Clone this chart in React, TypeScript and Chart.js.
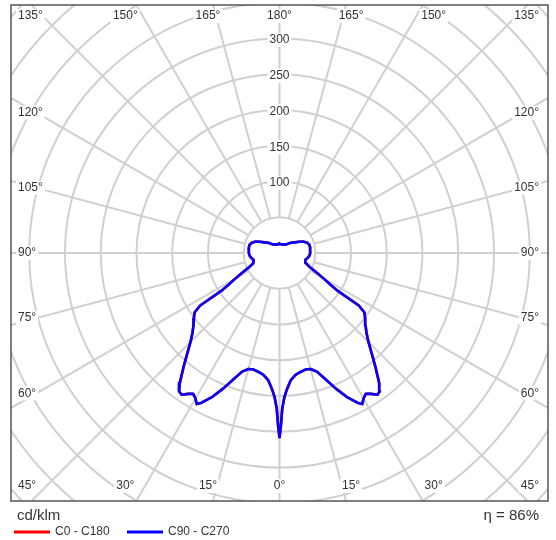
import React, { useEffect, useRef } from 'react';
import { Chart, registerables } from 'chart.js';

Chart.register(...registerables);

// Gamma angles (degrees, 0 = straight down, 180 = straight up)
const gammaAngles = [
  0, 0.5, 1, 2, 3, 4, 5, 7.5, 10, 12.5, 15, 17.5, 20, 22.5, 25, 27.5, 28.7, 30, 31.5, 33,
  34.6, 36, 37.5, 40, 42.5, 45, 47.5, 50, 52.5, 55, 56.5, 57, 58, 60, 62.5, 65, 69, 72, 76,
  80, 85, 90, 95, 100, 105, 110, 115, 120, 125, 130, 135, 141, 150, 160, 170, 177, 180,
];

// Luminous intensity, cd/klm
const c0c180 = [
  259, 240, 218, 201, 192, 185, 179, 172, 169, 167, 168, 174, 188, 205, 222, 236, 241, 235, 231, 235,
  241, 239, 229, 209, 191, 176, 165, 157, 151, 145, 133, 96, 85, 71, 57, 47, 39.5, 38, 37.5,
  40, 42, 43, 43, 43.5, 43.5, 41.5, 37.5, 31.5, 26, 23, 19.5, 15.5, 14, 12.5, 12.5, 12.5, 13.5,
];
const c90c270 = [
  259, 240, 218, 201, 192, 185, 179, 172, 169, 167, 168, 174, 188, 205, 222, 236, 241, 235, 231, 235,
  241, 239, 229, 209, 191, 176, 165, 157, 151, 145, 133, 96, 85, 71, 57, 47, 39.5, 38, 37.5,
  40, 42, 43, 43, 43.5, 43.5, 41.5, 37.5, 31.5, 26, 23, 19.5, 15.5, 14, 12.5, 12.5, 12.5, 13.5,
];

const seriesNames = ['C0 - C180', 'C90 - C270'];
const seriesColors = ['#ff0000', '#0000ff'];

const ringValues = [50, 100, 150, 200, 250, 300, 350, 400, 450, 500, 550];
const ringLabels = [100, 150, 200, 250, 300];
const angleTicks = [0, 15, 30, 45, 60, 75, 90, 105, 120, 135, 150, 165, 180];
const unitLabel = 'cd/klm';
const efficiencyLabel = '\u03B7 = 86%';

const X_RANGE = 375.5;
const Y_RANGE = 346.9;

function toPoints(values: number[]) {
  const pts: { x: number; y: number }[] = [];
  for (let i = 0; i < gammaAngles.length; i++) {
    const g = (gammaAngles[i] * Math.PI) / 180;
    pts.push({ x: values[i] * Math.sin(g), y: -values[i] * Math.cos(g) });
  }
  for (let i = gammaAngles.length - 2; i >= 0; i--) {
    const g = (gammaAngles[i] * Math.PI) / 180;
    pts.push({ x: -values[i] * Math.sin(g), y: -values[i] * Math.cos(g) });
  }
  return pts;
}

const FONT = '"Liberation Sans", Arial, sans-serif';
const TEXT = '#333333';

function labelWithBg(ctx: CanvasRenderingContext2D, text: string, x: number, y: number) {
  const w = ctx.measureText(text).width;
  ctx.fillStyle = '#ffffff';
  ctx.fillRect(x - w / 2 - 2, y - 7, w + 4, 14);
  ctx.fillStyle = TEXT;
  ctx.textAlign = 'center';
  ctx.textBaseline = 'middle';
  ctx.fillText(text, x, y);
}

const polarGrid = {
  id: 'polarGrid',
  beforeDatasetsDraw(chart: any) {
    const { ctx, chartArea } = chart;
    const xs = chart.scales.x;
    const ys = chart.scales.y;
    const cx = xs.getPixelForValue(0);
    const cy = ys.getPixelForValue(0);
    const ppu = xs.getPixelForValue(1) - cx;
    ctx.save();
    ctx.beginPath();
    ctx.rect(chartArea.left, chartArea.top, chartArea.right - chartArea.left, chartArea.bottom - chartArea.top);
    ctx.clip();
    ctx.strokeStyle = '#d0d0d0';
    ctx.lineWidth = 2;
    for (const r of ringValues) {
      ctx.beginPath();
      ctx.arc(cx, cy, r * ppu, 0, Math.PI * 2);
      ctx.stroke();
    }
    const rIn = ringValues[0] * ppu;
    const rOut = 900;
    for (let a = 0; a < 360; a += 15) {
      const t = (a * Math.PI) / 180;
      const dx = Math.sin(t);
      const dy = Math.cos(t);
      ctx.beginPath();
      ctx.moveTo(cx + dx * rIn, cy + dy * rIn);
      ctx.lineTo(cx + dx * rOut, cy + dy * rOut);
      ctx.stroke();
    }

    ctx.font = `12px ${FONT}`;
    // ring value labels on the upward spoke
    for (const r of ringLabels) {
      labelWithBg(ctx, String(r), cx, cy - r * ppu + 1.5);
    }

    // angle labels around the frame
    const left = chartArea.left + 7;
    const right = chartArea.right - 9;
    const topY = chartArea.top + 11;
    const botY = chartArea.bottom - 15;
    const H = (chartArea.right - chartArea.left) / 2 - 25.5;
    const V = (chartArea.bottom - chartArea.top) / 2 + 19;
    for (const a of angleTicks) {
      const sides = a === 0 || a === 180 ? [0] : [-1, 1];
      const text = `${a}\u00B0`;
      const w = ctx.measureText(text).width;
      const t = (a * Math.PI) / 180;
      for (const s of sides) {
        let x: number;
        let y: number;
        if (a > 50 && a < 130) {
          y = cy + (H * Math.cos(t)) / Math.sin(t);
          x = s < 0 ? left + w / 2 : right - w / 2;
        } else {
          y = a < 90 ? botY : topY;
          const d = V * Math.abs(Math.tan(t));
          x = cx + s * d;
          if (s < 0 && x - w / 2 < left) x = left + w / 2;
          if (s > 0 && x + w / 2 > right) x = right - w / 2;
        }
        labelWithBg(ctx, text, x, y);
      }
    }
    ctx.restore();
  },
  afterDraw(chart: any) {
    const { ctx, chartArea } = chart;
    ctx.save();
    ctx.strokeStyle = '#555555';
    ctx.lineWidth = 1.5;
    ctx.strokeRect(chartArea.left, chartArea.top, chartArea.right - chartArea.left, chartArea.bottom - chartArea.top);

    ctx.fillStyle = TEXT;
    ctx.textBaseline = 'middle';
    ctx.font = `15px ${FONT}`;
    ctx.textAlign = 'left';
    ctx.fillText(unitLabel, 17, 516);
    ctx.textAlign = 'right';
    ctx.fillText(efficiencyLabel, 539, 516);

    ctx.font = `12px ${FONT}`;
    ctx.textAlign = 'left';
    const items = chart.data.datasets
      .map((d: any) => ({ label: d.label, color: d.borderColor, ord: d.legendIndex }))
      .sort((a: any, b: any) => a.ord - b.ord);
    let x = 14;
    for (const it of items) {
      ctx.strokeStyle = it.color;
      ctx.lineWidth = 3;
      ctx.beginPath();
      ctx.moveTo(x, 532);
      ctx.lineTo(x + 36, 532);
      ctx.stroke();
      ctx.fillStyle = TEXT;
      ctx.fillText(it.label, x + 41, 532);
      x += 113;
    }
    ctx.restore();
  },
};

export default function App() {
  const ref = useRef<HTMLCanvasElement | null>(null);
  useEffect(() => {
    document.body.style.margin = '0';
    const canvas = ref.current;
    if (!canvas) return;
    const chart = new Chart(canvas, {
      type: 'scatter',
      data: {
        datasets: [
          {
            label: seriesNames[1],
            data: toPoints(c90c270),
            borderColor: seriesColors[1],
            backgroundColor: seriesColors[1],
            showLine: true,
            pointRadius: 0,
            borderWidth: 2.6,
            tension: 0,
            borderJoinStyle: 'round',
            order: 1,
            legendIndex: 1,
          } as any,
          {
            label: seriesNames[0],
            data: toPoints(c0c180),
            borderColor: seriesColors[0],
            backgroundColor: seriesColors[0],
            showLine: true,
            pointRadius: 0,
            borderWidth: 2.6,
            tension: 0,
            borderJoinStyle: 'round',
            order: 2,
            legendIndex: 0,
          } as any,
        ],
      },
      options: {
        animation: false,
        responsive: false,
        maintainAspectRatio: false,
        layout: { padding: { left: 11, top: 5, right: 8, bottom: 39 } },
        scales: {
          x: { type: 'linear', min: -X_RANGE, max: X_RANGE, display: false },
          y: { type: 'linear', min: -Y_RANGE, max: Y_RANGE, display: false },
        },
        plugins: {
          legend: { display: false },
          tooltip: { enabled: false },
        },
      },
      plugins: [polarGrid],
    });
    return () => chart.destroy();
  }, []);
  return (
    <div style={{ width: 556, height: 540 }}>
      <canvas ref={ref} width={556} height={540} style={{ display: 'block', width: 556, height: 540 }} />
    </div>
  );
}
